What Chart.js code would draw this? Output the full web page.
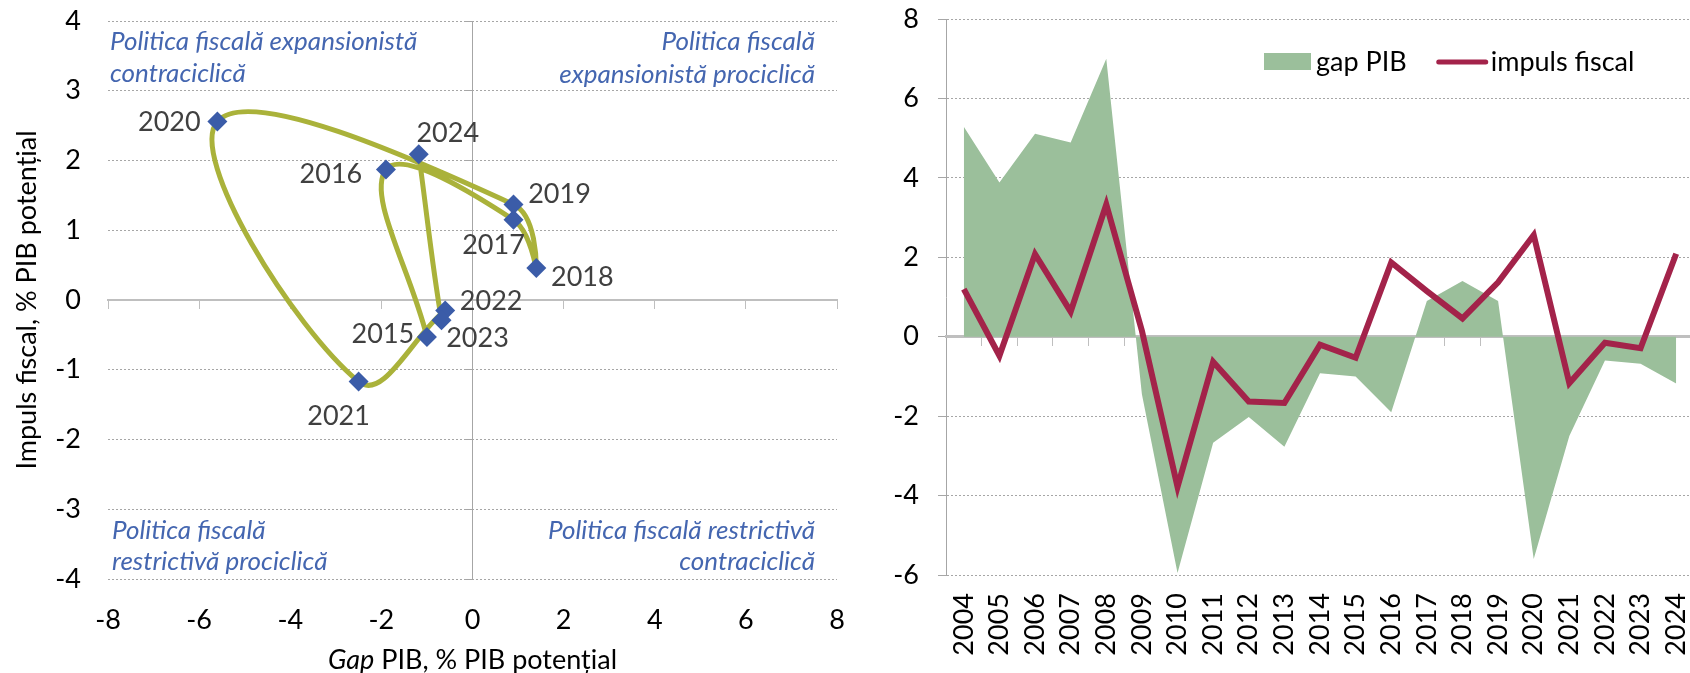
<!DOCTYPE html>
<html lang="ro">
<head>
  <meta charset="UTF-8">
  <title>Gap PIB și impuls fiscal</title>
  <script src="https://cdn.jsdelivr.net/npm/chart.js"></script>
  <style>
    body {
      margin: 0;
      background: #fff;
      overflow: hidden;
      width: 1690px;
      height: 673px;
      position: relative;
    }
    #left { position: absolute; left: 0; top: 0; width: 860px; height: 673px; }
    #right { position: absolute; left: 870px; top: 0; width: 830px; height: 673px; }
  </style>
</head>
<body>
  <div id="left"><canvas id="loop"></canvas></div>
  <div id="right"><canvas id="series"></canvas></div>

  <script>
    // date: gap PIB si impuls fiscal, % PIB potential
    const years = ['2004', '2005', '2006', '2007', '2008', '2009', '2010', '2011', '2012', '2013', '2014',
                   '2015', '2016', '2017', '2018', '2019', '2020', '2021', '2022', '2023', '2024'];
    const gapPib = [5.29, 3.88, 5.11, 4.89, 7.0, -1.45, -5.95, -2.67, -2.02, -2.77, -0.92,
                    -1.0, -1.9, 0.9, 1.4, 0.9, -5.6, -2.5, -0.6, -0.68, -1.18];
    const impulsFiscal = [1.2, -0.48, 2.08, 0.63, 3.33, 0.15, -3.78, -0.63, -1.63, -1.67, -0.2,
                          -0.53, 1.87, 1.15, 0.46, 1.37, 2.56, -1.17, -0.15, -0.29, 2.09];
    const loopStart = '2015';

    const gapTicks = [-8, 8, 2];      // min, max, pas
    const impulsTicks = [-4, 4, 1];
    const seriesTicks = [-6, 8, 2];

    const quadrantTexts = [
      ['Politica fiscală expansionistă', 'contraciclică'],
      ['Politica fiscală', 'expansionistă prociclică'],
      ['Politica fiscală', 'restrictivă prociclică'],
      ['Politica fiscală restrictivă', 'contraciclică']
    ];
    const xTitleParts = ['Gap', ' PIB, % PIB potențial'];
    const yTitle = 'Impuls fiscal, % PIB potențial';
    const legendNames = ['gap PIB', 'impuls fiscal'];

    const FONT = 'Lato';
    const SIZE = 27;
    const GRID = '#a6a6a6';
    const AXIS = '#bfbfbf';
    const BLUE_TEXT = '#4466b0';

    Chart.defaults.font.family = FONT;
    Chart.defaults.font.size = SIZE;
    Chart.defaults.color = '#000';

    const i0 = years.indexOf(loopStart);
    const loopYears = years.slice(i0);
    const loopPoints = loopYears.map((y, i) => ({ x: gapPib[i0 + i], y: impulsFiscal[i0 + i] }));

    // unde sta eticheta fata de punct (dx, dy)
    const labelOffsets = {
      '2015': [-44, -3], '2016': [-55, 5], '2017': [-20, 26], '2018': [46, 9], '2019': [46, -10],
      '2020': [-48, 1], '2021': [-20, 35], '2022': [46, -9], '2023': [36, 18], '2024': [29, -21]
    };

    // fara spatiul suplimentar pe care chart.js il pune pentru etichete
    const trimV = s => { s.paddingTop = 14; s.paddingBottom = 14; };
    const trimH = s => { s.paddingLeft = 0; s.paddingRight = 0; };

    const yearLabels = {
      id: 'yearLabels',
      afterDatasetsDraw(chart) {
        const { ctx } = chart;
        const meta = chart.getDatasetMeta(0);
        ctx.save();
        ctx.font = SIZE + 'px ' + FONT;
        ctx.fillStyle = '#404040';
        ctx.textAlign = 'center';
        ctx.textBaseline = 'middle';
        meta.data.forEach((pt, i) => {
          const off = labelOffsets[loopYears[i]] || [0, -20];
          ctx.fillText(loopYears[i], pt.x + off[0], pt.y + off[1]);
        });
        ctx.restore();
      }
    };

    const quadrants = {
      id: 'quadrants',
      afterDraw(chart) {
        const { ctx, chartArea: a } = chart;
        ctx.save();
        ctx.font = 'italic 26px ' + FONT;
        ctx.fillStyle = BLUE_TEXT;
        ctx.textBaseline = 'middle';
        ctx.textAlign = 'left';
        ctx.fillText(quadrantTexts[0][0], a.left + 2, a.top + 21);
        ctx.fillText(quadrantTexts[0][1], a.left + 2, a.top + 53);
        ctx.fillText(quadrantTexts[2][0], a.left + 4, a.bottom - 48);
        ctx.fillText(quadrantTexts[2][1], a.left + 4, a.bottom - 17);
        ctx.textAlign = 'right';
        ctx.fillText(quadrantTexts[1][0], a.right - 22, a.top + 21);
        ctx.fillText(quadrantTexts[1][1], a.right - 22, a.top + 54);
        ctx.fillText(quadrantTexts[3][0], a.right - 22, a.bottom - 48);
        ctx.fillText(quadrantTexts[3][1], a.right - 22, a.bottom - 17);
        ctx.restore();
      }
    };

    const xTitle = {
      id: 'xTitle',
      afterDraw(chart) {
        const { ctx, chartArea: a } = chart;
        ctx.save();
        ctx.textBaseline = 'middle';
        ctx.fillStyle = '#000';
        ctx.font = 'italic ' + SIZE + 'px ' + FONT;
        const w1 = ctx.measureText(xTitleParts[0]).width;
        ctx.font = SIZE + 'px ' + FONT;
        const w2 = ctx.measureText(xTitleParts[1]).width;
        const x = (a.left + a.right) / 2 - (w1 + w2) / 2;
        const y = 660;
        ctx.font = 'italic ' + SIZE + 'px ' + FONT;
        ctx.fillText(xTitleParts[0], x, y);
        ctx.font = SIZE + 'px ' + FONT;
        ctx.fillText(xTitleParts[1], x + w1, y);
        ctx.restore();
      }
    };

    new Chart(document.getElementById('loop'), {
      type: 'scatter',
      data: {
        datasets: [{
          data: loopPoints,
          showLine: true,
          tension: 0.4,
          borderColor: '#aab23a',
          borderWidth: 5,
          borderCapStyle: 'round',
          pointStyle: 'rectRot',
          pointRadius: 10,
          pointHoverRadius: 10,
          pointBackgroundColor: '#3b5ca8',
          pointBorderWidth: 0
        }]
      },
      options: {
        responsive: true,
        maintainAspectRatio: false,
        animation: false,
        layout: { padding: { top: 21, right: 23, bottom: 0, left: 0 } },
        plugins: { legend: { display: false }, tooltip: { enabled: false } },
        scales: {
          x: {
            type: 'linear', position: 'bottom',
            min: gapTicks[0], max: gapTicks[1],
            ticks: { stepSize: gapTicks[2], padding: 17 },
            grid: { display: false },
            border: { display: false },
            afterFit: s => { s.height = 94; trimH(s); }
          },
          y: {
            type: 'linear', position: 'left',
            min: impulsTicks[0], max: impulsTicks[1],
            ticks: { stepSize: impulsTicks[2], padding: 27 },
            grid: { color: c => c.tick.value === 0 ? 'transparent' : GRID, drawTicks: false },
            border: { display: false, dash: [2, 2] },
            title: { display: true, text: yTitle, padding: { top: 11, bottom: 0 } },
            afterFit: s => { s.width = 108; trimV(s); }
          },
          x0: {
            type: 'linear', axis: 'x', position: { y: 0 },
            min: gapTicks[0], max: gapTicks[1],
            ticks: { display: false, stepSize: gapTicks[2] },
            grid: { drawOnChartArea: false, tickLength: 8, color: AXIS },
            border: { color: AXIS, width: 2 }
          },
          y0: {
            type: 'linear', axis: 'y', position: { x: 0 },
            min: impulsTicks[0], max: impulsTicks[1],
            ticks: { display: false, stepSize: impulsTicks[2] },
            grid: { drawOnChartArea: false, tickLength: 8, color: GRID },
            border: { color: GRID, width: 1 }
          }
        }
      },
      plugins: [yearLabels, quadrants, xTitle]
    });

    const insideLegend = {
      id: 'insideLegend',
      afterDraw(chart) {
        const { ctx, chartArea: a } = chart;
        const ds = chart.data.datasets;
        let x = a.left + 318;
        const y = a.top + 43;
        ctx.save();
        ctx.font = SIZE + 'px ' + FONT;
        ctx.textBaseline = 'middle';
        ctx.fillStyle = ds[0].backgroundColor;
        ctx.fillRect(x, y - 9, 47, 17);
        ctx.fillStyle = '#000';
        ctx.fillText(ds[0].label, x + 52, y);
        x += 52 + ctx.measureText(ds[0].label).width + 30;
        ctx.strokeStyle = ds[1].borderColor;
        ctx.lineWidth = 5;
        ctx.lineCap = 'round';
        ctx.beginPath();
        ctx.moveTo(x + 2, y);
        ctx.lineTo(x + 49, y);
        ctx.stroke();
        ctx.fillText(ds[1].label, x + 54, y);
        ctx.restore();
      }
    };

    new Chart(document.getElementById('series'), {
      type: 'line',
      data: {
        labels: years,
        datasets: [{
          label: legendNames[0],
          data: gapPib,
          fill: 'origin',
          backgroundColor: '#9bbf9b',
          borderWidth: 0,
          pointRadius: 0,
          tension: 0,
          order: 2
        }, {
          label: legendNames[1],
          data: impulsFiscal,
          fill: false,
          borderColor: '#a3234a',
          borderWidth: 6,
          pointRadius: 0,
          tension: 0,
          order: 1
        }]
      },
      options: {
        responsive: true,
        maintainAspectRatio: false,
        animation: false,
        layout: { padding: { top: 19, right: 6, bottom: 0, left: 0 } },
        plugins: { legend: { display: false }, tooltip: { enabled: false } },
        scales: {
          x: {
            type: 'category', position: 'bottom', offset: true,
            ticks: { minRotation: 90, maxRotation: 90, padding: 10, autoSkip: false },
            grid: { display: false },
            border: { display: false },
            afterFit: s => { s.height = 98; trimH(s); }
          },
          y: {
            type: 'linear', position: 'left',
            min: seriesTicks[0], max: seriesTicks[1],
            ticks: { stepSize: seriesTicks[2], padding: 19 },
            grid: {
              color: c => c.tick.value === 0 ? 'transparent' : GRID,
              tickColor: GRID, tickLength: 8, tickBorderDash: []
            },
            border: { color: GRID, width: 1, dash: [2, 2] },
            afterFit: s => { s.width = 76; trimV(s); }
          },
          x0: {
            type: 'category', axis: 'x', position: { y: 0 }, offset: true, z: 1,
            ticks: { display: false },
            grid: { offset: true, drawOnChartArea: false, tickLength: 8, color: AXIS },
            border: { color: AXIS, width: 3 }
          }
        }
      },
      plugins: [insideLegend]
    });
  </script>
</body>
</html>
